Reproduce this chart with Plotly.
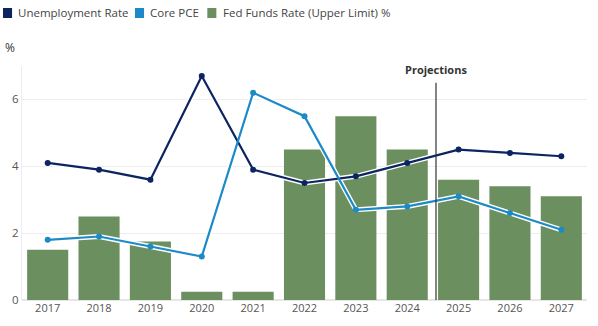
import plotly.graph_objects as go

years = ["2017","2018","2019","2020","2021","2022","2023","2024","2025","2026","2027"]
unemployment = [4.1, 3.9, 3.6, 6.7, 3.9, 3.5, 3.7, 4.1, 4.5, 4.4, 4.3]
core_pce = [1.8, 1.9, 1.6, 1.3, 6.2, 5.5, 2.7, 2.8, 3.1, 2.6, 2.1]
fed_funds = [1.5, 2.5, 1.75, 0.25, 0.25, 4.5, 5.5, 4.5, 3.6, 3.4, 3.1]
y_ticks = [0, 2, 4, 6]
series_names = ["Unemployment Rate", "Core PCE", "Fed Funds Rate (Upper Limit) %"]

NAVY = "#0c2461"
BLUE = "#1b8ac7"
GREEN = "#6b8f5f"

x_idx = list(range(len(years)))

fig = go.Figure()
fig.add_trace(go.Bar(x=x_idx, y=fed_funds, name=series_names[2],
                     marker=dict(color=GREEN, line=dict(width=0))))
# white halos
fig.add_trace(go.Scatter(x=x_idx, y=unemployment, mode="lines", line=dict(color="white", width=5),
                         hoverinfo="skip"))
fig.add_trace(go.Scatter(x=x_idx, y=core_pce, mode="lines", line=dict(color="white", width=5),
                         hoverinfo="skip"))
fig.add_trace(go.Scatter(x=x_idx, y=unemployment, name=series_names[0], mode="lines+markers",
                         line=dict(color=NAVY, width=2.2), marker=dict(size=6, color=NAVY)))
fig.add_trace(go.Scatter(x=x_idx, y=core_pce, name=series_names[1], mode="lines+markers",
                         line=dict(color=BLUE, width=2.2), marker=dict(size=6, color=BLUE)))

# manual legend: swatch rectangles + text
legend_x = [-0.0336, 0.2, 0.328]
for xs, n, c in zip(legend_x, series_names, [NAVY, BLUE, GREEN]):
    fig.add_shape(type="rect", xref="paper", yref="paper", x0=xs, x1=xs + 0.016,
                  y0=1.2051, y1=1.2479, fillcolor=c, line=dict(width=0))
    fig.add_annotation(xref="paper", yref="paper", x=xs + 0.0235, y=1.2265, xanchor="left",
                       yanchor="middle", text=n, showarrow=False,
                       font=dict(size=11.5, color="#444444"))

proj_x = 7.56
fig.add_shape(type="line", x0=proj_x, x1=proj_x, y0=0, y1=6.5, xref="x", yref="y",
              line=dict(color="#333333", width=1.2))
fig.add_annotation(x=proj_x, y=6.62, text="<b>Projections</b>", showarrow=False,
                   yanchor="bottom", font=dict(size=11, color="#333333"))
fig.add_annotation(xref="paper", yref="paper", x=-0.021, y=1.081, yanchor="middle", xanchor="center",
                   text="%", showarrow=False, font=dict(size=12, color="#333333"))

fig.update_layout(
    width=598, height=326,
    margin=dict(l=22, r=11, t=66, b=26),
    paper_bgcolor="white", plot_bgcolor="white",
    font=dict(family="Open Sans", size=11, color="#555555"),
    bargap=0.2,
    showlegend=False,
    xaxis=dict(tickmode="array", tickvals=x_idx, ticktext=years, range=[-0.5, 10.5],
               showgrid=False, zeroline=False, showline=False, ticks="",
               tickfont=dict(size=11, color="#555555")),
    yaxis=dict(range=[0, 7], tickvals=y_ticks, showgrid=True, gridcolor="#eeeeee",
               zeroline=True, zerolinecolor="#e6e6e6", showline=True, linecolor="#eeeeee",
               ticks="", tickfont=dict(size=11.5, color="#555555")),
)

fig.write_html("out.html")
